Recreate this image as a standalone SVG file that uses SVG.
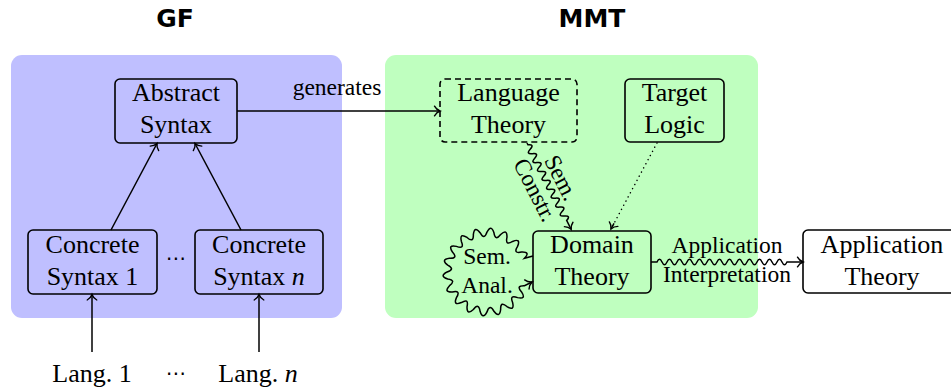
<svg xmlns="http://www.w3.org/2000/svg" width="951" height="391" viewBox="0 0 951 391">
<style>
.box{fill:none;stroke:#000;stroke-width:1.6}
.t{font-family:"Liberation Serif","Times New Roman",serif;font-size:26px;text-anchor:middle;fill:#000}
.l{font-family:"Liberation Serif","Times New Roman",serif;font-size:23.5px;text-anchor:middle;fill:#000}
.h{font-family:"DejaVu Sans",sans-serif;font-weight:bold;font-size:25px;text-anchor:middle;fill:#000}
.c{fill:none;stroke:#000;stroke-width:1.5}
.dots{font-family:"DejaVu Sans",sans-serif;font-size:20px;text-anchor:middle;fill:#000}
</style>
<defs>
<marker id="ah" markerUnits="userSpaceOnUse" viewBox="-8 -7 10 14" refX="0" refY="0" markerWidth="10" markerHeight="14" orient="auto" overflow="visible">
<path d="M-5.5,-4.8 C-4,-2 -1.6,-0.6 0,0 C-1.6,0.6 -4,2 -5.5,4.8" fill="none" stroke="#000" stroke-width="1.4" stroke-linecap="round"/>
</marker>
</defs>

<g id="panels">
<rect x="11" y="55" width="331" height="263" rx="11" fill="#bfbfff"/>
<rect x="385" y="55" width="373" height="263" rx="11" fill="#bfffbf"/>
<text class="h" x="175" y="27">GF</text>
<text class="h" x="592" y="27">MMT</text>
</g>

<g id="connectors">
<line class="c" x1="237" y1="111" x2="440" y2="111" marker-end="url(#ah)"/>
<text class="l" x="337" y="95">generates</text>
<line class="c" x1="111" y1="230" x2="157" y2="143.5" marker-end="url(#ah)"/>
<line class="c" x1="241" y1="230" x2="195" y2="143.5" marker-end="url(#ah)"/>
<line class="c" x1="92" y1="352" x2="92" y2="294.5" marker-end="url(#ah)"/>
<line class="c" x1="259" y1="352" x2="259" y2="294.5" marker-end="url(#ah)"/>
<g transform="translate(527,143) rotate(62.9)">
<path class="c" d="M0,0 h2 q2.5,-6.5 5,0 t5,0 t5,0 t5,0 t5,0 t5,0 t5,0 t5,0 t5,0 t5,0 t5,0 t5,0 t5,0 t5,0 t5,0 t5,0 t5,0 H97" marker-end="url(#ah)"/>
<text class="l" x="46.7" y="-7">Sem.</text>
<text class="l" x="45.5" y="22">Constr.</text>
</g>
<line class="c" x1="657" y1="143" x2="611" y2="229" stroke-dasharray="0.1 4.6" stroke-linecap="round" stroke-width="1.8"/>
<line class="c" x1="614" y1="223.4" x2="611" y2="229" marker-end="url(#ah)"/>
<path class="c" d="M651,262 H657 q2.5,-5.5 5,0 t5,0 t5,0 t5,0 t5,0 t5,0 t5,0 t5,0 t5,0 t5,0 t5,0 t5,0 t5,0 t5,0 t5,0 t5,0 t5,0 t5,0 t5,0 t5,0 t5,0 t5,0 t5,0 t5,0 t5,0 t5,0 H803" marker-end="url(#ah)"/>
<text class="l" x="727" y="253">Application</text>
<text class="l" x="727" y="282">Interpretation</text>
<g transform="translate(487,272) scale(1.05)">
<path fill="none" stroke="#000" stroke-width="1.45" d="M43.8,-15.2 L35.7,-13.0 Q41.7,-19.4 32.9,-19.0 Q24.6,-17.2 29.1,-24.4 Q32.5,-32.5 24.4,-29.1 Q17.2,-24.6 19.0,-32.9 Q19.4,-41.7 13.0,-35.7 Q7.8,-29.0 6.6,-37.4 Q4.0,-45.8 0,-38 Q-2.6,-29.9 -6.6,-37.4 Q-11.9,-44.4 -13.0,-35.7 Q-12.7,-27.2 -19.0,-32.9 Q-26.4,-37.7 -24.4,-29.1 Q-21.2,-21.2 -29.1,-24.4 Q-37.7,-26.4 -32.9,-19.0 Q-27.2,-12.7 -35.7,-13.0 Q-44.4,-11.9 -37.4,-6.6 Q-29.9,-2.6 -38,0 Q-45.8,4.0 -37.4,6.6 Q-29.0,7.8 -35.7,13.0 Q-41.7,19.4 -32.9,19.0 Q-24.6,17.2 -29.1,24.4 Q-32.5,32.5 -24.4,29.1 Q-17.2,24.6 -19.0,32.9 Q-19.4,41.7 -13.0,35.7 Q-7.8,29.0 -6.6,37.4 Q-4.0,45.8 0,38 Q2.6,29.9 6.6,37.4 Q11.9,44.4 13.0,35.7 Q12.7,27.2 19.0,32.9 Q26.4,37.7 24.4,29.1 Q21.2,21.2 29.1,24.4 Q37.7,26.4 32.9,19.0 Q27.2,12.7 35.7,13.0 L42.9,9.5" marker-end="url(#ah)"/>
</g>
<text class="l" x="487" y="264">Sem.</text>
<text class="l" x="487" y="293">Anal.</text>
</g>

<g id="abstract-syntax">
<rect class="box" x="115" y="79" width="122" height="64" rx="5"/>
<text class="t" x="176" y="101">Abstract</text>
<text class="t" x="176" y="133">Syntax</text>
</g>
<g id="concrete-syntax-1">
<rect class="box" x="28" y="230" width="129" height="64" rx="5"/>
<text class="t" x="92.5" y="253">Concrete</text>
<text class="t" x="92.5" y="285">Syntax 1</text>
</g>
<text class="dots" x="176" y="265">⋯</text>
<g id="concrete-syntax-n">
<rect class="box" x="195" y="230" width="128" height="64" rx="5"/>
<text class="t" x="259" y="253">Concrete</text>
<text class="t" x="259" y="285">Syntax <tspan font-style="italic">n</tspan></text>
</g>
<g id="lang-1">
<text class="t" x="92" y="382">Lang. 1</text>
</g>
<text class="dots" x="176" y="380">⋯</text>
<g id="lang-n">
<text class="t" x="258" y="382">Lang. <tspan font-style="italic">n</tspan></text>
</g>
<g id="language-theory">
<rect class="box" x="440" y="79" width="137" height="63" rx="5" stroke-dasharray="6 4"/>
<text class="t" x="508.5" y="101">Language</text>
<text class="t" x="508.5" y="133">Theory</text>
</g>
<g id="target-logic">
<rect class="box" x="625" y="79" width="99" height="63" rx="5"/>
<text class="t" x="674.5" y="101">Target</text>
<text class="t" x="674.5" y="133">Logic</text>
</g>
<g id="domain-theory">
<rect class="box" x="533" y="231" width="118" height="62" rx="5"/>
<text class="t" x="592" y="253">Domain</text>
<text class="t" x="592" y="285">Theory</text>
</g>
<g id="application-theory">
<rect class="box" x="803" y="230" width="159" height="63" rx="5" fill="#fff"/>
<text class="t" x="882" y="253">Application</text>
<text class="t" x="882" y="285">Theory</text>
</g>
</svg>
